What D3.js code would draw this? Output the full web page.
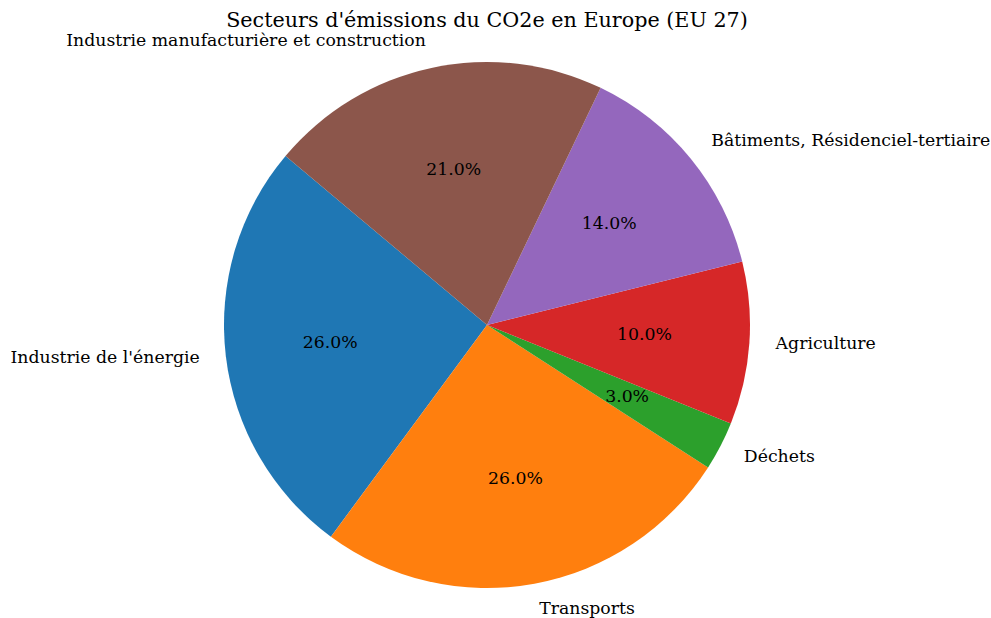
<!DOCTYPE html>
<html>
<head>
<meta charset="utf-8">
<script src="https://cdn.jsdelivr.net/npm/d3@7"></script>
<style>
  html, body { margin: 0; padding: 0; background: #fff; }
  svg { display: block; }
  text { font-family: "DejaVu Serif", serif; fill: #000; }
</style>
</head>
<body>
<svg id="chart" width="991" height="618"></svg>
<script>
// Sectors, in drawing order (counter-clockwise from the start angle)
const sectors = [
  "Industrie de l'énergie",
  "Transports",
  "Déchets",
  "Agriculture",
  "Bâtiments, Résidenciel-tertiaire",
  "Industrie manufacturière et construction"
];
const shares = [26, 26, 3, 10, 14, 21];
const colors = ["#1f77b4", "#ff7f0e", "#2ca02c", "#d62728", "#9467bd", "#8c564b"];
const title = "Secteurs d'émissions du CO2e en Europe (EU 27)";

const width = 991, height = 618;
const cx = 487, cy = 325, radius = 263;
const startDeg = 140; // measured counter-clockwise from 3 o'clock
const labelSize = "17.3px", titleSize = "20.7px";
const textShift = -2; // small vertical nudge for the centred texts

const svg = d3.select("#chart");

// Convert to d3's clockwise-from-12-o'clock convention, running counter-clockwise
const a0 = (90 - startDeg) * Math.PI / 180;
const pie = d3.pie().sort(null).value(d => d)
  .startAngle(a0).endAngle(a0 - 2 * Math.PI);
const arcs = pie(shares);

const arc = d3.arc().innerRadius(0).outerRadius(radius);

const g = svg.append("g").attr("transform", `translate(${cx},${cy})`);

g.selectAll("path.slice")
  .data(arcs)
  .join("path")
  .attr("class", "slice")
  .attr("d", arc)
  .attr("fill", (d, i) => colors[i]);

const total = d3.sum(shares);
const mid = d => (d.startAngle + d.endAngle) / 2;
const pos = (d, r) => [Math.sin(mid(d)) * r, -Math.cos(mid(d)) * r];

// Percentages inside the slices
g.selectAll("text.pct")
  .data(arcs)
  .join("text")
  .attr("class", "pct")
  .attr("x", d => pos(d, radius * 0.6)[0])
  .attr("y", d => pos(d, radius * 0.6)[1] + textShift)
  .attr("text-anchor", "middle")
  .attr("dominant-baseline", "central")
  .style("font-size", labelSize)
  .text(d => (d.value / total * 100).toFixed(1) + "%");

// Sector labels outside the pie
g.selectAll("text.lbl")
  .data(arcs)
  .join("text")
  .attr("class", "lbl")
  .attr("x", d => pos(d, radius * 1.1)[0])
  .attr("y", d => pos(d, radius * 1.1)[1] + textShift)
  .attr("text-anchor", d => pos(d, 1)[0] < 0 ? "end" : "start")
  .attr("dominant-baseline", "central")
  .style("font-size", labelSize)
  .text((d, i) => sectors[i]);

svg.append("text")
  .attr("x", cx)
  .attr("y", 20)
  .attr("text-anchor", "middle")
  .attr("dominant-baseline", "central")
  .style("font-size", titleSize)
  .text(title);
</script>
</body>
</html>
